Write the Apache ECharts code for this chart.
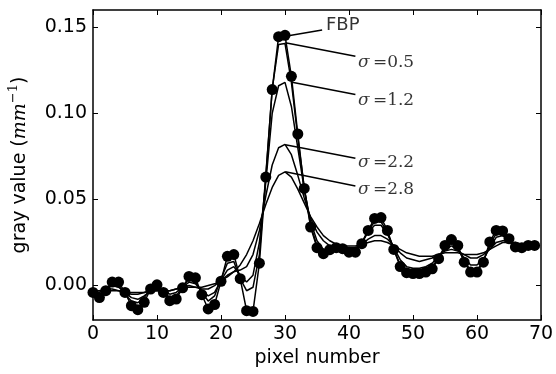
<!DOCTYPE html>
<html>
<head>
<meta charset="utf-8">
<script src="https://cdn.jsdelivr.net/npm/echarts@6/dist/echarts.min.js"></script>
<style>
html,body{margin:0;padding:0;background:#fff;}
#main{width:556px;height:374px;}
</style>
</head>
<body>
<div id="main"></div>
<script>
// pixel index 0..69
const pixels = Array.from({length: 70}, (_, i) => i);

const fbp = [-0.004,-0.007,-0.003,0.002,0.002,-0.004,-0.0117,-0.014,-0.0097,-0.002,
  0.0004,-0.004,-0.0088,-0.0078,-0.0013,0.0053,0.0045,-0.0053,-0.0136,-0.011,
  0.0025,0.017,0.018,0.004,-0.0146,-0.015,0.013,0.063,0.1138,0.1445,
  0.1453,0.1215,0.088,0.0564,0.034,0.022,0.0185,0.0208,0.022,0.0214,
  0.0194,0.0194,0.0243,0.032,0.039,0.0395,0.032,0.021,0.011,0.0075,
  0.007,0.007,0.0078,0.0097,0.0156,0.0233,0.0267,0.0233,0.0136,0.0078,
  0.0078,0.0136,0.0253,0.032,0.0317,0.0272,0.0224,0.022,0.0233,0.0233];

const sigma05 = [-0.005,-0.006,-0.002,0.001,0.0,-0.005,-0.009,-0.010,-0.007,-0.002,
  -0.001,-0.004,-0.007,-0.006,-0.001,0.004,0.002,-0.004,-0.009,-0.006,
  0.004,0.013,0.014,0.004,-0.003,-0.001,0.018,0.064,0.114,0.140,
  0.1406,0.118,0.086,0.057,0.035,0.023,0.019,0.021,0.022,0.021,
  0.020,0.020,0.025,0.032,0.037,0.037,0.031,0.021,0.012,0.008,
  0.008,0.008,0.009,0.011,0.016,0.022,0.025,0.022,0.014,0.009,
  0.009,0.014,0.024,0.030,0.030,0.026,0.022,0.022,0.023,0.023];

const sigma12 = [-0.004,-0.004,-0.002,0.0,-0.001,-0.004,-0.007,-0.008,-0.006,-0.003,
  -0.002,-0.003,-0.005,-0.004,-0.001,0.002,0.001,-0.003,-0.006,-0.004,
  0.003,0.009,0.011,0.006,0.002,0.006,0.025,0.060,0.100,0.116,
  0.118,0.104,0.080,0.056,0.037,0.026,0.021,0.021,0.021,0.021,
  0.020,0.021,0.025,0.031,0.035,0.035,0.030,0.022,0.015,0.011,
  0.010,0.010,0.011,0.013,0.017,0.021,0.023,0.021,0.016,0.012,
  0.012,0.015,0.022,0.028,0.029,0.026,0.023,0.022,0.023,0.023];

const sigma22 = [-0.003,-0.003,-0.002,-0.002,-0.003,-0.004,-0.005,-0.005,-0.004,-0.003,
  -0.003,-0.003,-0.003,-0.002,-0.001,0.0,-0.001,-0.002,-0.002,0.0,
  0.003,0.006,0.008,0.009,0.011,0.018,0.032,0.052,0.070,0.080,
  0.082,0.076,0.064,0.051,0.039,0.031,0.026,0.023,0.022,0.022,
  0.022,0.022,0.024,0.027,0.029,0.029,0.027,0.023,0.019,0.016,
  0.015,0.014,0.015,0.016,0.018,0.020,0.021,0.020,0.018,0.016,
  0.016,0.018,0.021,0.025,0.026,0.026,0.024,0.023,0.023,0.023];

const sigma28 = [-0.003,-0.003,-0.003,-0.003,-0.003,-0.004,-0.004,-0.004,-0.004,-0.003,
  -0.003,-0.003,-0.003,-0.002,-0.001,-0.001,-0.001,-0.001,0.0,0.001,
  0.003,0.005,0.008,0.012,0.018,0.026,0.036,0.047,0.057,0.064,
  0.066,0.063,0.056,0.048,0.040,0.034,0.029,0.026,0.024,0.023,
  0.023,0.023,0.024,0.025,0.026,0.026,0.025,0.023,0.021,0.019,
  0.018,0.017,0.017,0.017,0.018,0.019,0.019,0.019,0.018,0.018,
  0.018,0.019,0.021,0.023,0.025,0.025,0.025,0.024,0.024,0.024];

const xTicks = [0, 10, 20, 30, 40, 50, 60, 70];
const yTicks = [0.00, 0.05, 0.10, 0.15];

// annotations: text, leader start [x,y], leader end [x,y], text anchor [x,y]
const annoText  = ['FBP', '0.5', '1.2', '2.2', '2.8'];
const annoStart = [[30.3, 0.1449], [30.05, 0.1410], [31.1, 0.1180], [30.05, 0.0817], [30.05, 0.0661]];
const annoEnd   = [[35.8, 0.1484], [41.0, 0.1332], [41.0, 0.1109], [41.0, 0.0739], [41.0, 0.0578]];
const annoLabel = [[36.4, 0.1510], [41.4, 0.1292], [41.4, 0.1072], [41.4, 0.0712], [41.4, 0.0560]];

const chart = echarts.init(document.getElementById('main'), null, {renderer: 'canvas'});

const lineStyle = {color: '#000', width: 1.5};
function curve(name, data) {
  return {
    name, type: 'line', data: pixels.map((x, i) => [x, data[i]]),
    symbol: 'none', lineStyle, z: 2, animation: false, clip: true
  };
}

const axisCommon = {
  axisLine: {show: true, onZero: false, lineStyle: {color: '#000', width: 1.5}},
  axisTick: {show: true, inside: true, length: 5, lineStyle: {color: '#000', width: 1}},
  splitLine: {show: false}
};

const option = {
  backgroundColor: '#fff',
  animation: false,
  grid: {left: 93, right: 15, top: 10, bottom: 54, containLabel: false, outerBoundsMode: 'none'},
  xAxis: [
    Object.assign({
      type: 'value', min: 0, max: 70, interval: 10, position: 'bottom',
      name: 'pixel number', nameLocation: 'middle', nameGap: 25,
      nameTextStyle: {fontFamily: 'DejaVu Sans', fontSize: 19, color: '#000'},
      axisLabel: {fontFamily: 'DejaVu Sans', fontSize: 19, color: '#000', margin: 5,
        customValues: xTicks}
    }, axisCommon, {axisTick: Object.assign({}, axisCommon.axisTick, {customValues: xTicks})}),
    Object.assign({
      type: 'value', min: 0, max: 70, interval: 10, position: 'top',
      axisLabel: {show: false}
    }, axisCommon)
  ],
  yAxis: [
    Object.assign({
      type: 'value', min: -0.02, max: 0.16, position: 'left',
      name: '{a|gray value (}{b|mm}{c|−1}{a|)}',
      nameLocation: 'middle', nameGap: 60, nameRotate: 90,
      nameTextStyle: {
        color: '#000',
        rich: {
          a: {fontFamily: 'DejaVu Sans', fontSize: 19, color: '#000', lineHeight: 26},
          b: {fontFamily: 'DejaVu Serif', fontStyle: 'italic', fontSize: 19, color: '#000', lineHeight: 26},
          c: {fontFamily: 'DejaVu Serif', fontSize: 13, color: '#000', verticalAlign: 'top', lineHeight: 26}
        }
      },
      axisLabel: {fontFamily: 'DejaVu Sans', fontSize: 19, color: '#000', margin: 6,
        customValues: yTicks, formatter: v => v.toFixed(2)}
    }, axisCommon, {axisTick: Object.assign({}, axisCommon.axisTick, {customValues: yTicks})}),
    Object.assign({
      type: 'value', min: -0.02, max: 0.16, position: 'right',
      axisLabel: {show: false}
    }, axisCommon, {axisTick: Object.assign({}, axisCommon.axisTick, {customValues: yTicks})})
  ],
  series: [
    curve('σ=2.8', sigma28),
    curve('σ=2.2', sigma22),
    curve('σ=1.2', sigma12),
    curve('σ=0.5', sigma05),
    {
      name: 'FBP', type: 'line', data: pixels.map((x, i) => [x, fbp[i]]),
      symbol: 'circle', symbolSize: 11, showAllSymbol: true,
      itemStyle: {color: '#000'}, lineStyle, z: 3, clip: true,
      markLine: {
        silent: true, symbol: ['none', 'none'],
        lineStyle: {color: '#000', width: 1.5, type: 'solid'},
        label: {show: false},
        data: annoStart.map((s, i) => [{coord: s}, {coord: annoEnd[i]}])
      }
    },
    {
      name: 'labels', type: 'scatter', symbolSize: 0, z: 5,
      data: annoLabel.map((p, i) => ({value: p, name: annoText[i]})),
      label: {
        show: true, position: 'right', distance: 0, color: '#000',
        formatter: p => p.dataIndex === 0 ? '{f|FBP}' : '{s|σ} {t|=' + p.name + '}',
        rich: {
          f: {fontFamily: 'DejaVu Sans', fontSize: 18, color: '#000'},
          s: {fontFamily: 'DejaVu Serif', fontStyle: 'italic', fontSize: 17, color: '#000'},
          t: {fontFamily: 'DejaVu Serif', fontSize: 17, color: '#000'}
        }
      }
    }
  ]
};
chart.setOption(option);
</script>
</body>
</html>
